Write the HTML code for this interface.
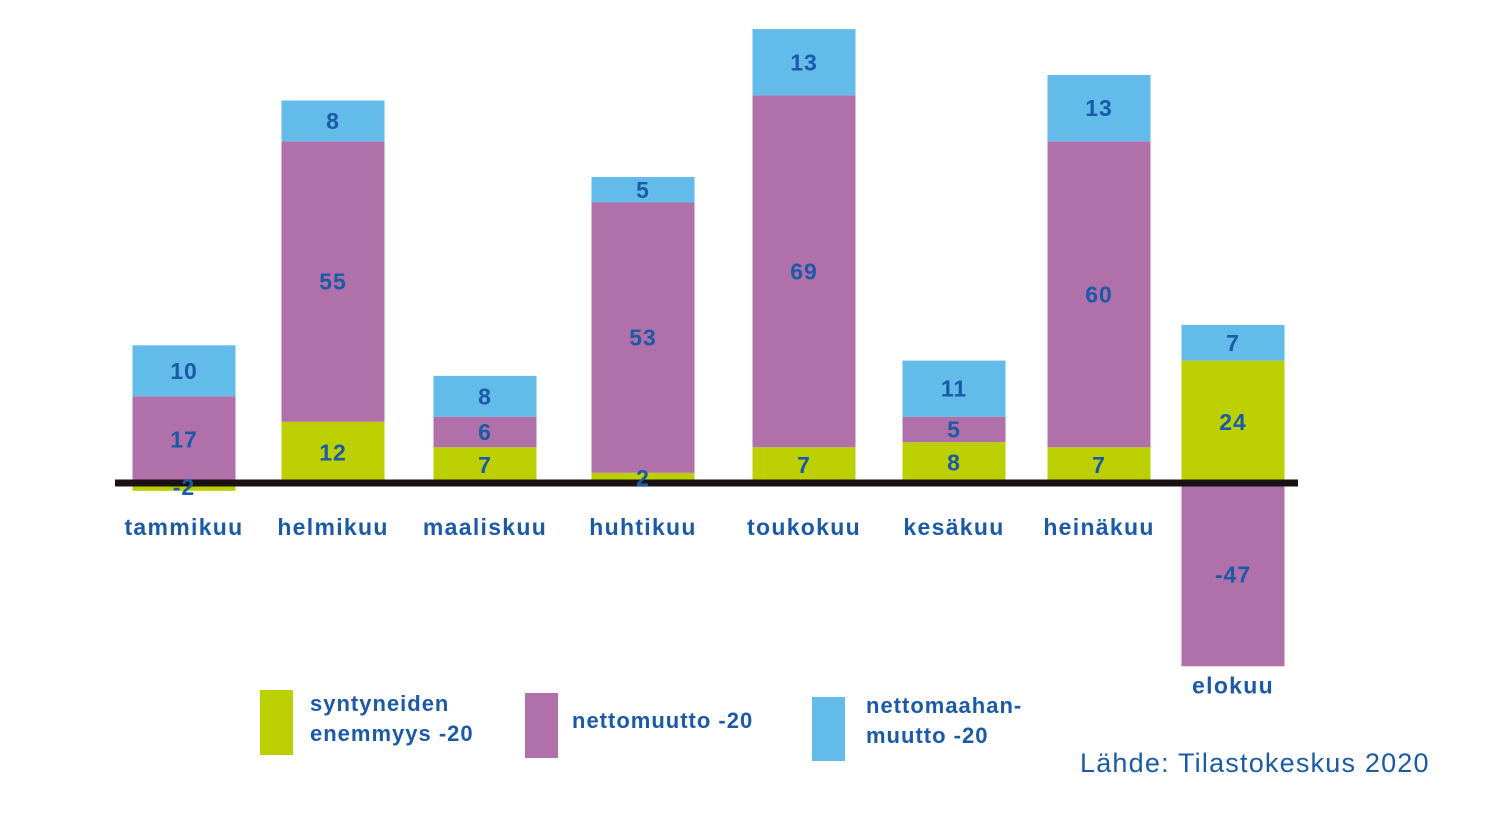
<!DOCTYPE html>
<html><head><meta charset="utf-8"><style>
body{margin:0;background:#fff;}
svg{display:block;font-family:"Liberation Sans",sans-serif;}
</style></head><body>
<svg id="chart" width="1486" height="813">
<g id="bars"></g>
<line x1="115" y1="483" x2="1298" y2="483" stroke="#1a1212" stroke-width="7"/>
<g id="labels"></g>
<g>
<rect x="260" y="690" width="33" height="65" fill="#bccf00"/>
<text x="310" y="711" font-size="22" font-weight="bold" letter-spacing="1" fill="#1a5aa6">syntyneiden</text>
<text x="310" y="741" font-size="22" font-weight="bold" letter-spacing="1" fill="#1a5aa6">enemmyys -20</text>
<rect x="525" y="693" width="33" height="65" fill="#b070aa"/>
<text x="572" y="728" font-size="22" font-weight="bold" letter-spacing="1" fill="#1a5aa6">nettomuutto -20</text>
<rect x="812" y="697" width="33" height="64" fill="#62bbe8"/>
<text x="866" y="713" font-size="22" font-weight="bold" letter-spacing="1" fill="#1a5aa6">nettomaahan-</text>
<text x="866" y="743" font-size="22" font-weight="bold" letter-spacing="1" fill="#1a5aa6">muutto -20</text>
</g>
<text x="1080" y="772" font-size="27" letter-spacing="1.2" fill="#1a5aa6">Lähde: Tilastokeskus 2020</text>
</svg>
<script>
const months=["tammikuu","helmikuu","maaliskuu","huhtikuu","toukokuu","kesäkuu","heinäkuu","elokuu"];
const births=[-2,12,7,2,7,8,7,24];
const migration=[17,55,6,53,69,5,60,-47];
const immigration=[10,8,8,5,13,11,13,7];
const colors=["#bccf00","#b070aa","#62bbe8"];
const names=["births","migration","immigration"];
const layoutCenters=[184,333,485,643,804,954,1099,1233];
const base=483, scale=5.1, scaleNeg=3.9, bw=103;
const ns="http://www.w3.org/2000/svg";
const bars=document.getElementById('bars'), labels=document.getElementById('labels');
function xc(i){return layoutCenters[i];}
function y(v){return v>=0? base - v*scale : base - v*scaleNeg;}
months.forEach((m,i)=>{
  let pos=0,neg=0;
  [births[i],migration[i],immigration[i]].forEach((v,k)=>{
    let a,b;
    if(v>=0){a=pos;b=pos+v;pos=b;}else{a=neg;b=neg+v;neg=b;}
    const y1=y(Math.max(a,b)), y2=y(Math.min(a,b));
    const r=document.createElementNS(ns,'rect');
    r.setAttribute('x',xc(i)-bw/2);r.setAttribute('y',y1);
    r.setAttribute('width',bw);r.setAttribute('height',y2-y1);
    r.setAttribute('fill',colors[k]);
    
    
    bars.appendChild(r);
    const t=document.createElementNS(ns,'text');
    t.setAttribute('x',xc(i));t.setAttribute('y',(y1+y2)/2+8);
    t.setAttribute('text-anchor','middle');t.setAttribute('font-size','23');
    t.setAttribute('font-weight','bold');t.setAttribute('letter-spacing','1');t.setAttribute('fill','#1a5aa6');
    t.textContent=v;
    
    
    labels.appendChild(t);
  });
  const l=document.createElementNS(ns,'text');
  l.setAttribute('x',xc(i));
  l.setAttribute('y',neg< -10? y(neg)+27 : 535);
  l.setAttribute('text-anchor','middle');l.setAttribute('font-size','23');
  l.setAttribute('font-weight','bold');l.setAttribute('letter-spacing','1.3');l.setAttribute('fill','#1a5aa6');
  l.textContent=m;
  
  
  labels.appendChild(l);
});
</script>
</body></html>
